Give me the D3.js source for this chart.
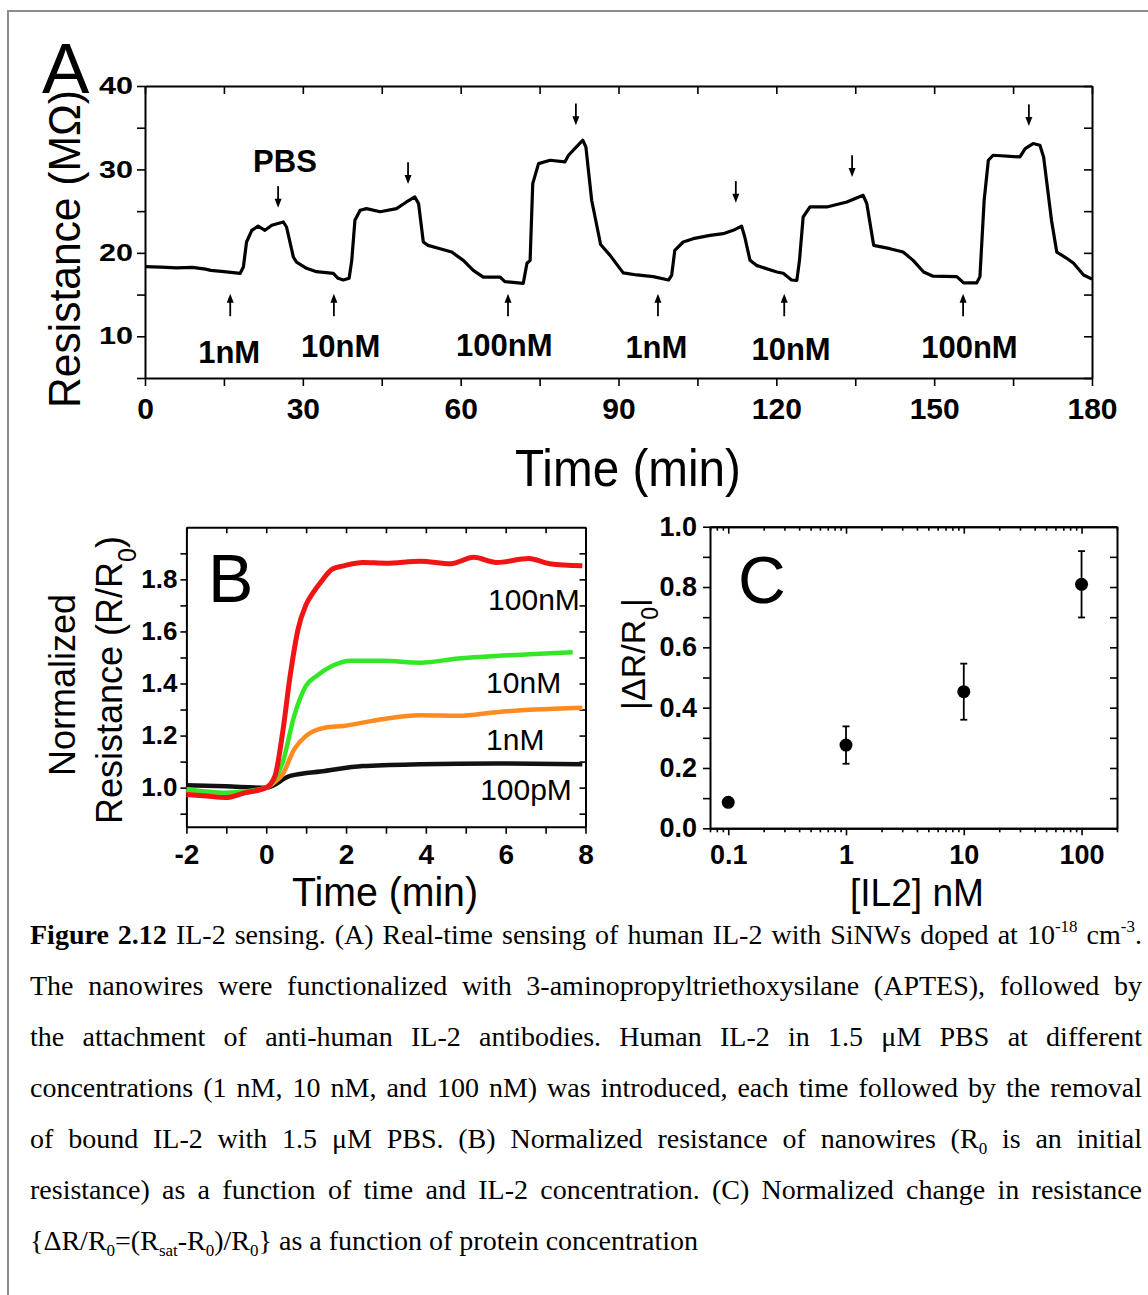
<!DOCTYPE html>
<html><head><meta charset="utf-8">
<script src="https://cdn.jsdelivr.net/npm/d3@7"></script>
<style>
body{margin:0;background:#fff;}
#wrap{position:relative;width:1148px;height:1295px;overflow:hidden;background:#fff;}
svg{position:absolute;left:0;top:0;}
.cap{position:absolute;left:30px;width:1112px;font-family:"Liberation Serif","Times New Roman",serif;font-size:28px;line-height:28px;color:#000;}
.j{text-align:justify;text-align-last:justify;}
.cap sup,.cap sub{font-size:17px;line-height:0;position:relative;vertical-align:baseline;}
.cap sup{top:-12px;} .cap sub{top:6px;}
</style></head>
<body><div id="wrap"></div>
<script>
// ---------------- DATA ----------------
// Panel A: real-time trace (time in min, resistance in MOhm)
const timeA = [0,3,6,9,11.5,12.5,15,18.1,18.7,19.3,20.3,21.5,22.8,24.1,26.3,26.9,28.2,28.8,30.7,32.6,35.8,36.7,37.7,38.8,39.3,39.9,40.9,42.1,44.7,47.8,49.7,51.3,52.0,52.9,53.8,56.1,58.3,60.5,62.4,64.3,67.5,68.4,71.9,72.6,73.2,73.7,74.8,77.0,79.8,80.5,82.0,83.2,83.8,84.9,86.6,88.4,90.9,93.5,96.6,99.5,100.1,100.7,102.3,104.2,107.4,109.9,111.8,113.4,114.0,115.0,116.2,120.1,121.3,122.9,123.9,124.4,125.1,126.4,129.6,133.4,136.5,137.2,138.5,141.6,144.1,146.0,148.0,149.8,154.3,155.6,158.1,158.7,159.5,160.3,161.2,166.3,167.3,168.8,170.1,170.8,172.3,173.3,175.2,176.5,178.4,180];
const resA  = [18.34,18.3,18.2,18.25,18.05,17.9,17.75,17.55,18.3,21.3,22.7,23.2,22.7,23.3,23.7,23.1,19.5,18.9,18.15,17.74,17.55,16.95,16.75,16.95,19.1,23.9,25.1,25.3,24.93,25.3,26.1,26.7,25.9,21.3,20.9,20.5,20.1,19.1,17.9,17.1,17.1,16.55,16.35,18.75,19.1,28.3,30.7,31.1,30.9,31.7,32.7,33.5,32.7,26.3,21.0,19.7,17.6,17.35,17.15,16.75,17.3,20.3,21.3,21.7,22.1,22.3,22.7,23.2,21.9,19.1,18.5,17.7,17.55,16.75,16.7,19.1,24.3,25.5,25.5,26.1,26.9,25.9,20.9,20.5,20.1,19.1,17.7,17.2,17.15,16.4,16.4,17.15,26.3,31.1,31.7,31.5,32.5,33.1,32.9,31.5,23.9,20.1,19.35,18.75,17.35,16.85];
const injectLabels     = ["1nM","10nM","100nM","1nM","10nM","100nM"];
const injectTimes      = [16.2,35.9,69.0,97.5,121.5,155.5];
const injectLabelTimes = [16.0,37.2,68.3,97.2,122.8,156.7];
const injectLabelVals  = [6.8,7.5,7.6,7.4,7.2,7.4];
const pbsTimes     = [25.3,50.0,81.9,112.3,134.4,168.0];
const pbsTipValues = [25.4,28.25,35.3,26.0,29.1,35.2];
const xTicksA = [0,15,30,45,60,75,90,105,120,135,150,165,180];
const xLabelsA = [0,30,60,90,120,150,180];
const yTicksA = [5,10,15,20,25,30,35,40];
const yLabelsA = [10,20,30,40];

// Panel B: normalized resistance vs time
const seriesB = ["100pM","1nM","10nM","100nM"];
const tB_100pM = [-2,-1.02,0,0.6,1.47,2.42,3.86,5.77,7.92];
const vB_100pM = [1.009,1.005,1.0,1.045,1.064,1.083,1.09,1.093,1.09];
const tB_1nM = [-2,-1.02,0,0.2,0.41,0.7,0.99,1.47,1.94,2.9,3.86,4.81,5.77,6.73,7.92];
const vB_1nM = [0.987,0.974,1.0,1.02,1.051,1.147,1.198,1.23,1.237,1.263,1.278,1.276,1.29,1.3,1.307];
const tB_10nM = [-2,-1.5,-1.02,-0.43,0,0.2,0.41,0.7,0.99,1.27,1.66,2.13,2.9,3.86,4.81,5.77,6.73,7.68];
const vB_10nM = [0.994,0.985,0.98,0.987,1.0,1.03,1.096,1.275,1.39,1.43,1.468,1.487,1.487,1.48,1.496,1.506,1.513,1.52];
const tB_100nM = [-2,-1.5,-1.02,-0.54,0,0.22,0.41,0.6,0.8,0.99,1.18,1.37,1.66,1.94,2.42,3.0,3.86,4.62,5.2,5.77,6.58,7.1,7.92];
const vB_100nM = [0.974,0.968,0.962,0.98,1.0,1.045,1.21,1.43,1.61,1.70,1.75,1.79,1.84,1.852,1.865,1.862,1.87,1.86,1.885,1.865,1.88,1.86,1.852];
const xTicksB = [-2,-1,0,1,2,3,4,5,6,7,8];
const xLabelsB = [-2,0,2,4,6,8];
const yTicksB = [0.9,1.0,1.1,1.2,1.3,1.4,1.5,1.6,1.7,1.8,1.9];
const yLabelsB = [1.0,1.2,1.4,1.6,1.8];
const labelTB   = [5.36,5.51,5.51,5.56];     // series labels: time (data units)
const labelValsB = [0.952,1.145,1.364,1.6825]; // series labels: value (data units)

// Panel C: |dR/R0| vs concentration
const concC = [0.1,1,10,100];
const meanC = [0.086,0.276,0.453,0.809];
const errC  = [0.0,0.062,0.093,0.11];
const xMajorC = [0.1,1,10,100];
const xMinorC = [0.07,0.08,0.09,0.2,0.3,0.4,0.5,0.6,0.7,0.8,0.9,2,3,4,5,6,7,8,9,20,30,40,50,60,70,80,90,200];
const yTicksC = [0,0.1,0.2,0.3,0.4,0.5,0.6,0.7,0.8,0.9,1.0];
const yLabelsC = [0,0.2,0.4,0.6,0.8,1.0];

// ---------------- DRAW ----------------
const SANS = '"Liberation Sans", Arial, Helvetica, sans-serif';
const wrap = d3.select("#wrap");
const svg = wrap.append("svg").attr("width",1148).attr("height",1295);

svg.append("rect").attr("x",8).attr("y",11).attr("width",1300).attr("height",1400)
  .attr("fill","none").attr("stroke","#8c8c8c").attr("stroke-width",2);

function styleAxis(g, fs, weight){
  g.attr("font-family",null).attr("font-size",null);
  g.selectAll("text").attr("font-family",SANS).attr("font-size",fs).attr("font-weight",weight).attr("fill","#000");
  g.selectAll(".domain").attr("stroke","#000").attr("stroke-width",2);
  g.selectAll(".tick line").attr("stroke","#000").attr("stroke-width",1.6);
}
function addText(g, txt, x, y, fs, opts={}){
  const t = g.append("text").attr("x",x).attr("y",y).attr("font-family",SANS)
    .attr("font-size",fs).attr("font-weight",opts.weight||"normal")
    .attr("text-anchor",opts.anchor||"start").attr("fill","#000").text(txt);
  if(opts.len) t.attr("textLength",opts.len).attr("lengthAdjust","spacingAndGlyphs");
  return t;
}

// ===== Panel A =====
const xA = d3.scaleLinear().domain([0,180]).range([145,1092]);
const yA = d3.scaleLinear().domain([5,40]).range([378,86]);
const gA = svg.append("g");
const fmtA = d => xLabelsA.includes(d) ? d : "";
let ax;
ax = gA.append("g").attr("transform",`translate(0,${yA(5)})`)
  .call(d3.axisBottom(xA).tickValues(xTicksA).tickSize(8).tickSizeOuter(0).tickPadding(12).tickFormat(fmtA));
styleAxis(ax,30,"bold");
ax = gA.append("g").attr("transform",`translate(0,${yA(40)})`)
  .call(d3.axisTop(xA).tickValues(xTicksA).tickSize(-8).tickSizeOuter(0).tickFormat(""));
styleAxis(ax,30,"bold");
ax = gA.append("g").attr("transform",`translate(${xA(0)},0)`)
  .call(d3.axisLeft(yA).tickValues(yTicksA).tickSize(8).tickSizeOuter(0).tickPadding(4).tickFormat(d=>yLabelsA.includes(d)?d:""));
styleAxis(ax,24,"bold");
ax.selectAll("text").filter(function(){return this.textContent!=="";})
  .attr("textLength",34).attr("lengthAdjust","spacingAndGlyphs");
ax = gA.append("g").attr("transform",`translate(${xA(180)},0)`)
  .call(d3.axisRight(yA).tickValues(yTicksA).tickSize(-8).tickSizeOuter(0).tickFormat(""));
styleAxis(ax,24,"bold");

gA.append("path").datum(timeA.map((t,i)=>[t,resA[i]]))
  .attr("fill","none").attr("stroke","#000").attr("stroke-width",3.2).attr("stroke-linejoin","round")
  .attr("d", d3.line().x(d=>xA(d[0])).y(d=>yA(d[1])));

function arrow(g, x, yTail, yTip){
  const dir = yTip < yTail ? 1 : -1; // 1 = pointing up
  g.append("line").attr("x1",x).attr("x2",x).attr("y1",yTail).attr("y2",yTip+dir*6)
    .attr("stroke","#000").attr("stroke-width",1.8);
  g.append("path").attr("d",`M${x},${yTip}L${x-3.5},${yTip+dir*9}L${x+3.5},${yTip+dir*9}Z`).attr("fill","#000");
}
injectTimes.forEach((t,i)=>{
  arrow(gA, xA(t), yA(12.4), yA(15.1));
  addText(gA, injectLabels[i], xA(injectLabelTimes[i]), yA(injectLabelVals[i]), 31, {weight:"bold", anchor:"middle"});
});
pbsTimes.forEach((t,i)=> arrow(gA, xA(t), yA(pbsTipValues[i]+2.6), yA(pbsTipValues[i])));
addText(gA,"PBS", xA(25.3)-25, 172, 31, {weight:"bold"});

addText(gA,"A",42,93,71);
addText(gA,"Time (min)",628,486,52,{anchor:"middle",len:226});
addText(gA,"Resistance (MΩ)",0,0,45,{anchor:"middle",len:318}).attr("transform","translate(80,249) rotate(-90)");

// ===== Panel B =====
const xB = d3.scaleLinear().domain([-2,8]).range([186.4,585.5]);
const yB = d3.scaleLinear().domain([0.85,2.0]).range([826.7,527.3]);
const gB = svg.append("g");
const near = (arr,d) => arr.some(v=>Math.abs(v-d)<1e-9);
ax = gB.append("g").attr("transform",`translate(0,${yB(0.85)})`)
  .call(d3.axisBottom(xB).tickValues(xTicksB).tickSize(7).tickSizeOuter(0).tickPadding(10).tickFormat(d=>near(xLabelsB,d)?d:""));
styleAxis(ax,28,"bold");
ax = gB.append("g").attr("transform",`translate(0,${yB(2.0)})`)
  .call(d3.axisTop(xB).tickValues(xTicksB).tickSize(-6).tickSizeOuter(0).tickFormat(""));
styleAxis(ax,28,"bold");
ax = gB.append("g").attr("transform",`translate(${xB(-2)},0)`)
  .call(d3.axisLeft(yB).tickValues(yTicksB).tickSize(6).tickSizeOuter(0).tickPadding(3).tickFormat(d=>near(yLabelsB,d)?d3.format(".1f")(d):""));
styleAxis(ax,26,"bold");
ax = gB.append("g").attr("transform",`translate(${xB(8)},0)`)
  .call(d3.axisRight(yB).tickValues(yTicksB).tickSize(-6).tickSizeOuter(0).tickFormat(""));
styleAxis(ax,26,"bold");

const colB = {"100pM":"#111111","1nM":"#ff8a1f","10nM":"#33e626","100nM":"#f01414"};
const dataB = {"100pM":[tB_100pM,vB_100pM],"1nM":[tB_1nM,vB_1nM],"10nM":[tB_10nM,vB_10nM],"100nM":[tB_100nM,vB_100nM]};
const lineB = d3.line().x(d=>xB(d[0])).y(d=>yB(d[1])).curve(d3.curveMonotoneX);
seriesB.forEach(s=>{
  const [t,v] = dataB[s];
  gB.append("path").datum(t.map((x,i)=>[x,v[i]])).attr("fill","none")
    .attr("stroke",colB[s]).attr("stroke-width", s==="100nM"?5:4.5).attr("stroke-linejoin","round")
    .attr("d",lineB);
});
seriesB.forEach((s,i)=>{
  addText(gB, s, xB(labelTB[i]), yB(labelValsB[i]), 30);
});
addText(gB,"B",208,602,68);
addText(gB,"Time (min)",385,906,40,{anchor:"middle",len:186});
addText(gB,"Normalized",0,0,36,{anchor:"middle"}).attr("transform","translate(75,685) rotate(-90)");
const rt = gB.append("text").attr("transform","translate(122,680) rotate(-90)").attr("text-anchor","middle")
  .attr("font-family",SANS).attr("font-size",36).attr("fill","#000");
rt.append("tspan").text("Resistance (R/R");
rt.append("tspan").attr("baseline-shift","sub").attr("font-size",25).text("0");
rt.append("tspan").text(")");

// ===== Panel C =====
const xC = d3.scaleLog().domain([0.07,200]).range([710,1117]);
const yC = d3.scaleLinear().domain([0,1]).range([828.3,526.7]);
const gC = svg.append("g");
ax = gC.append("g").attr("transform",`translate(0,${yC(0)})`)
  .call(d3.axisBottom(xC).tickValues(xMinorC).tickSize(4).tickSizeOuter(0).tickFormat(""));
styleAxis(ax,27,"bold");
ax = gC.append("g").attr("transform",`translate(0,${yC(0)})`)
  .call(d3.axisBottom(xC).tickValues(xMajorC).tickSize(7).tickSizeOuter(0).tickPadding(10).tickFormat(d=>String(d)));
styleAxis(ax,27,"bold");
ax = gC.append("g").attr("transform",`translate(0,${yC(1)})`)
  .call(d3.axisTop(xC).tickValues(xMinorC).tickSize(-4).tickSizeOuter(0).tickFormat(""));
styleAxis(ax,27,"bold");
ax = gC.append("g").attr("transform",`translate(0,${yC(1)})`)
  .call(d3.axisTop(xC).tickValues(xMajorC).tickSize(-7).tickSizeOuter(0).tickFormat(""));
styleAxis(ax,27,"bold");
ax = gC.append("g").attr("transform",`translate(${xC(0.07)},0)`)
  .call(d3.axisLeft(yC).tickValues(yTicksC).tickSize(7).tickSizeOuter(0).tickPadding(6).tickFormat(d=>near(yLabelsC,d)?d3.format(".1f")(d):""));
styleAxis(ax,27,"bold");
ax = gC.append("g").attr("transform",`translate(${xC(200)},0)`)
  .call(d3.axisRight(yC).tickValues(yTicksC).tickSize(-7).tickSizeOuter(0).tickFormat(""));
styleAxis(ax,27,"bold");

concC.forEach((c,i)=>{
  if(errC[i]>0){
    const x = xC(c), y1 = yC(meanC[i]-errC[i]), y2 = yC(meanC[i]+errC[i]);
    gC.append("line").attr("x1",x).attr("x2",x).attr("y1",y1).attr("y2",y2).attr("stroke","#000").attr("stroke-width",1.8);
    [y1,y2].forEach(y=>gC.append("line").attr("x1",x-3.5).attr("x2",x+3.5).attr("y1",y).attr("y2",y).attr("stroke","#000").attr("stroke-width",1.8));
  }
  gC.append("circle").attr("cx",xC(c)).attr("cy",yC(meanC[i])).attr("r",6.5).attr("fill","#000");
});
addText(gC,"C",738,603,66);
addText(gC,"[IL2] nM",917,906,38,{anchor:"middle",len:134});
const ct = gC.append("text").attr("transform","translate(645,654) rotate(-90)").attr("text-anchor","middle")
  .attr("font-family",SANS).attr("font-size",34).attr("fill","#000");
ct.append("tspan").text("|ΔR/R");
ct.append("tspan").attr("baseline-shift","sub").attr("font-size",23).text("0");
ct.append("tspan").text("|");

// ===== Caption =====
const capLines = [
  '<b>Figure 2.12</b> IL-2 sensing. (A) Real-time sensing of human IL-2 with SiNWs doped at 10<sup>-18</sup> cm<sup>-3</sup>.',
  'The nanowires were functionalized with 3-aminopropyltriethoxysilane (APTES), followed by',
  'the attachment of anti-human IL-2 antibodies. Human IL-2 in 1.5 μM PBS at different',
  'concentrations (1 nM, 10 nM, and 100 nM) was introduced, each time followed by the removal',
  'of bound IL-2 with 1.5 μM PBS. (B) Normalized resistance of nanowires (R<sub>0</sub> is an initial',
  'resistance) as a function of time and IL-2 concentration. (C) Normalized change in resistance',
  '{ΔR/R<sub>0</sub>=(R<sub>sat</sub>-R<sub>0</sub>)/R<sub>0</sub>} as a function of protein concentration'
];
capLines.forEach((html,i)=>{
  wrap.append("div").attr("class", i<capLines.length-1 ? "cap j" : "cap")
    .style("top",(944 + i*51 - 23.5)+"px").html(html);
});
</script>
</body></html>
